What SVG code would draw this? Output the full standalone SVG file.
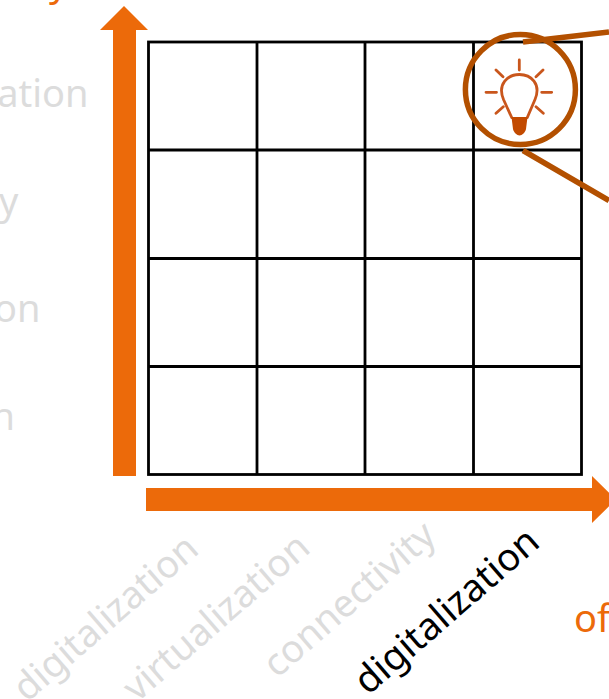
<svg xmlns="http://www.w3.org/2000/svg" width="609" height="699" viewBox="0 0 609 699">
<style>
text{font-family:"Noto Sans","Open Sans","Liberation Sans",sans-serif;font-size:38px}
.g{fill:#dcdcdc}.o{fill:#ec6a0a}.k{fill:#000}
.grid{fill:none;stroke:#000;stroke-width:2.8}
.ray{fill:none;stroke:#c9561c;stroke-width:2.8;stroke-linecap:round}
.call{fill:none;stroke:#b35000;stroke-width:5.5}
</style>
<rect width="609" height="699" fill="#fff"/>
<g id="grid">
<rect class="grid" x="148.5" y="42" width="433" height="432.5"/>
<path class="grid" d="M257 42V474.5M365 42V474.5M473.5 42V474.5M148.5 150H581.5M148.5 258.5H581.5M148.5 366.5H581.5"/>
</g>
<g id="axes">
<path class="o" d="M113 476V30H100L124 6L148 30H136V476Z"/>
<path class="o" d="M146 488H592V476L616 499.5L592 523V511H146Z"/>
</g>
<g id="row-labels">
<text class="g" x="88.500" y="106.500" text-anchor="end">ation</text>
<text class="g" x="18.500" y="215" text-anchor="end">y</text>
<text class="g" x="40.500" y="322" text-anchor="end">on</text>
<text class="g" x="15" y="430" text-anchor="end">n</text>
</g>
<g id="col-labels">
<text class="g" transform="translate(27,703) rotate(-41)">digitalization</text>
<text class="g" transform="translate(137,703) rotate(-41)">virtualization</text>
<text class="g" transform="translate(277,679) rotate(-41)">connectivity</text>
<text class="k" transform="translate(368,696) rotate(-41)">digitalization</text>
</g>
<g id="axis-labels">
<text class="o" x="49" y="-4">y</text>
<text class="o" x="574" y="632">of</text>
</g>
<g id="bulb">
<path class="ray" d="M519.3 60V70M486 92.3H496.5M541.7 92.3H551.7M496 70L503 76.7M543 70L536 76.7M496 113.3L503.3 106.7M543.3 113.3L536 106.7"/>
<path class="ray" d="M511.7 117.5L503.5 99.5C497 84 508 74.5 519.3 74.5C531 74.5 541.5 84 535 99.5L527.3 117.5"/>
<path d="M511.500 117H527.500L526 129C525.500 132 522 135.500 519.500 135.500C517 135.500 513.500 132 513 129Z" fill="#c24a00"/>
</g>
<g id="connectors">
<circle class="call" cx="520.4" cy="89.5" r="55"/>
<path class="call" d="M523 42L609 32M523 150.5L609 200.5"/>
</g>
</svg>
